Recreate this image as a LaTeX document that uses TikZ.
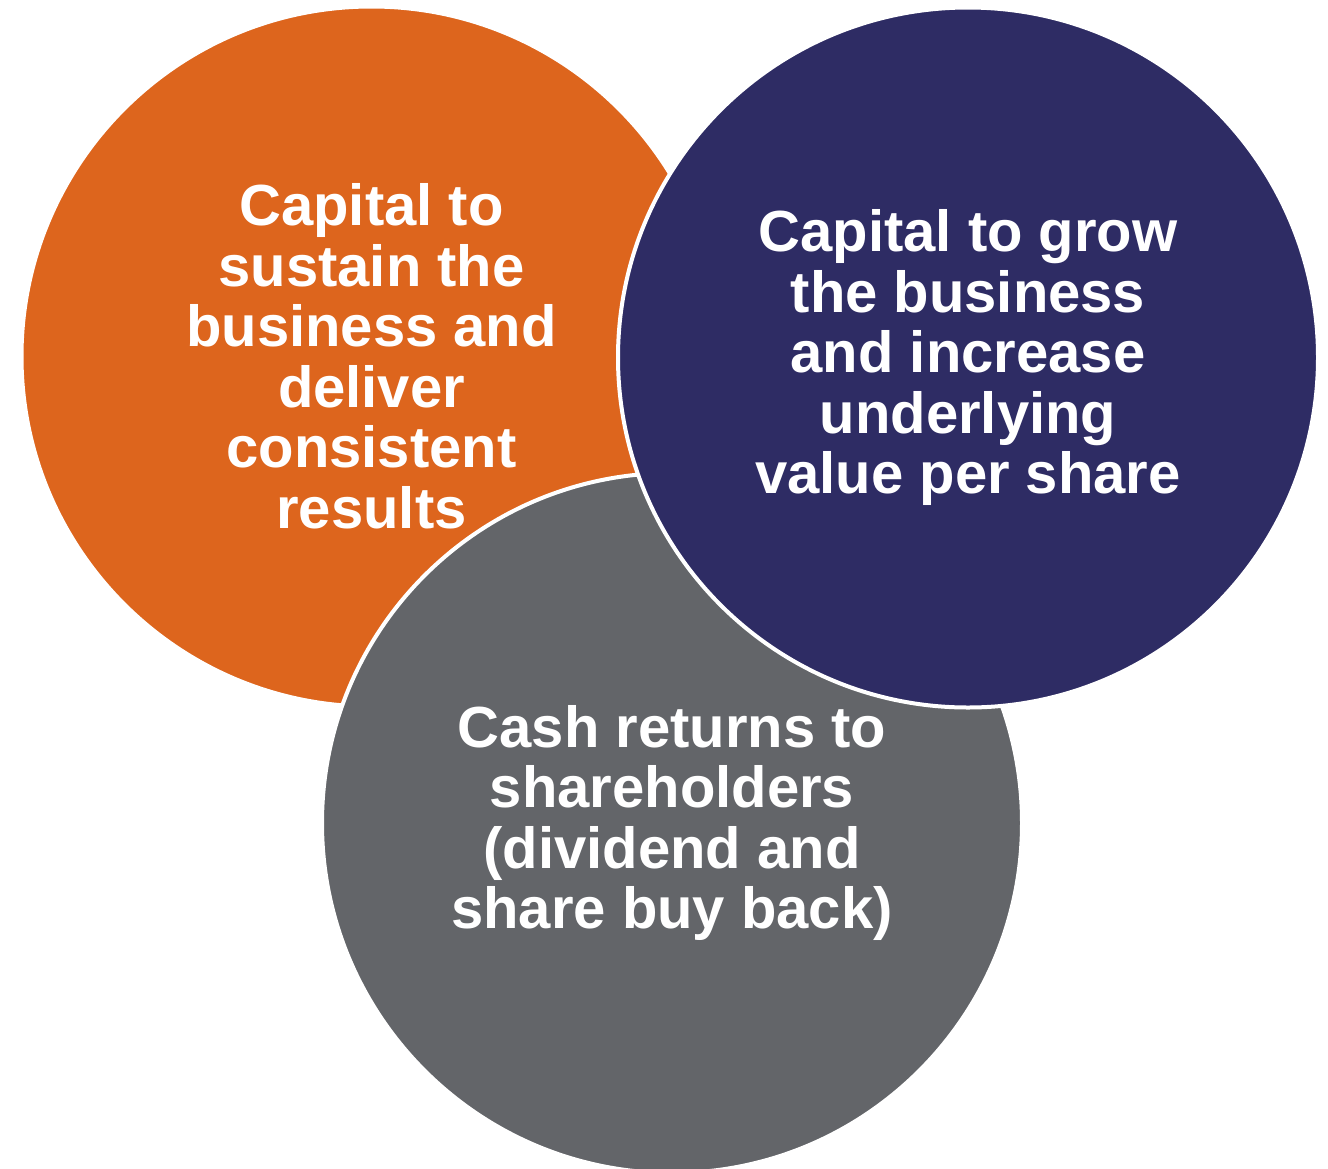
\documentclass[tikz,border=0pt]{standalone}
\usepackage{fontspec}
\setmainfont{Liberation Sans}
\definecolor{sustainorange}{HTML}{DD651D}
\definecolor{grownavy}{HTML}{2E2C64}
\definecolor{returngray}{HTML}{636569}
\begin{document}
\begin{tikzpicture}[x=1pt,y=-1pt,
  pillar/.style={circle, draw=white, line width=4pt, minimum size=700pt,
    inner sep=0pt, text=white, align=center,
    font=\bfseries\fontsize{58pt}{60.5pt}\selectfont}]
  \useasboundingbox (0,0) rectangle (1328,1168);
  % three overlapping capital-allocation pillars
  \node[pillar, fill=sustainorange] (sustain) at (371.5,356.5)
    {Capital to\\sustain the\\business and\\deliver\\consistent\\results};
  \node[pillar, fill=returngray] (returns) at (672,823)
    {Cash returns to\\shareholders\\(dividend and\\share buy back)};
  \node[pillar, fill=grownavy] (grow) at (968,357.5)
    {Capital to grow\\the business\\and increase\\underlying\\value per share};
\end{tikzpicture}
\end{document}
